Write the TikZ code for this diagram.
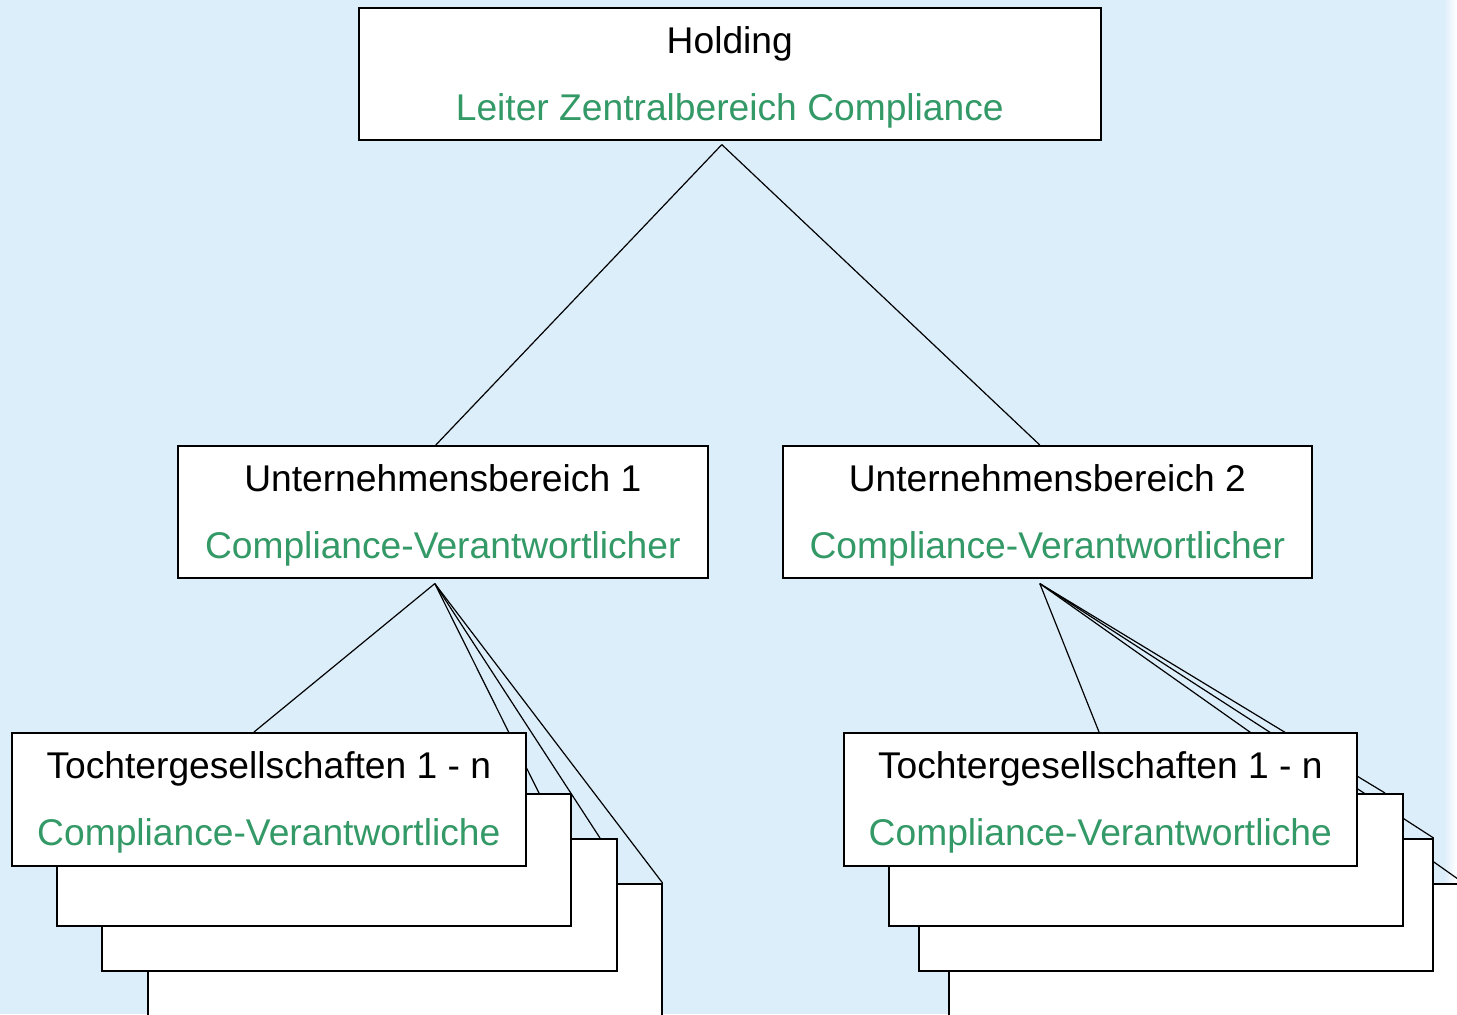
\documentclass[tikz,border=0pt]{standalone}
\usepackage{fontspec}
\setmainfont{Liberation Sans}
\usetikzlibrary{calc,backgrounds}
\definecolor{bg}{HTML}{DDEEFB}
\definecolor{role}{HTML}{339966}
\newcommand{\firstline}{\rule{0pt}{17pt}}
\tikzset{
  wh/.style 2 args={minimum width=#1*0.5pt, minimum height=#2*0.5pt},
  box/.style={draw=black, line width=0.8pt, fill=white, anchor=north west,
    inner sep=0pt, align=center, font=\fontsize{18.6}{22}\selectfont},
  link/.style={draw=black, line width=0.6pt},
}
\begin{document}
\begin{tikzpicture}[x=0.5pt,y=-0.5pt]
\clip (0,0) rectangle (1457,1014);

% top level
\node[box, wh={742}{132}] (hold) at (358,7)
  {\firstline Holding\\[11.5pt]\textcolor{role}{Leiter Zentralbereich Compliance}};

% business units
\node[box, wh={530}{132}] (ub1) at (177,445)
  {\firstline Unternehmensbereich 1\\[11.5pt]\textcolor{role}{Compliance-Verantwortlicher}};
\node[box, wh={529}{132}] (ub2) at (782,445)
  {\firstline Unternehmensbereich 2\\[11.5pt]\textcolor{role}{Compliance-Verantwortlicher}};

% subsidiaries of unit 1, back to front
\node[box, wh={514}{200}] (l4) at (147,883) {};
\node[box, wh={515}{132}] (l3) at (101,838) {};
\node[box, wh={514}{132}] (l2) at (56,793) {};
\node[box, wh={514}{133}] (l1) at (11,732)
  {\firstline Tochtergesellschaften 1 - n\\[11.5pt]\textcolor{role}{Compliance-Verantwortliche}};

% subsidiaries of unit 2, back to front
\node[box, wh={514}{200}] (r4) at (948,883) {};
\node[box, wh={514}{132}] (r3) at (918,838) {};
\node[box, wh={514}{132}] (r2) at (888,793) {};
\node[box, wh={513}{133}] (r1) at (843,732)
  {\firstline Tochtergesellschaften 1 - n\\[11.5pt]\textcolor{role}{Compliance-Verantwortliche}};

\begin{scope}[on background layer]
  \fill[bg] (0,0) rectangle (1457,1014);
  \shade[left color=bg, right color=white] (1444,0) rectangle (1457,1014);

  \coordinate (hapex) at ($(hold.south)+(-8,4)$);
  \coordinate (apex1) at ($(ub1.south)+(-8,5)$);
  \coordinate (apex2) at ($(ub2.south)+(-7.5,5)$);

  \draw[link] (hapex) -- ($(ub1.north)+(-7,0)$);
  \draw[link] (hapex) -- ($(ub2.north)+(-7.5,0)$);

  \draw[link] (apex1) -- ($(l1.north west)+(243,0)$);
  \draw[link] (apex1) -- ($(l2.north west)+(483,0)$);
  \draw[link] (apex1) -- ($(l3.north west)+(499,0)$);
  \draw[link] (apex1) -- (l4.north east);

  \draw[link] (apex2) -- ($(r1.north west)+(256,0)$);
  \draw[link] (apex2) -- ($(r2.north west)+(497,0)$);
  \draw[link] (apex2) -- (r3.north east);
  \draw[link] (apex2) -- (r4.north east);
\end{scope}
\end{tikzpicture}
\end{document}
